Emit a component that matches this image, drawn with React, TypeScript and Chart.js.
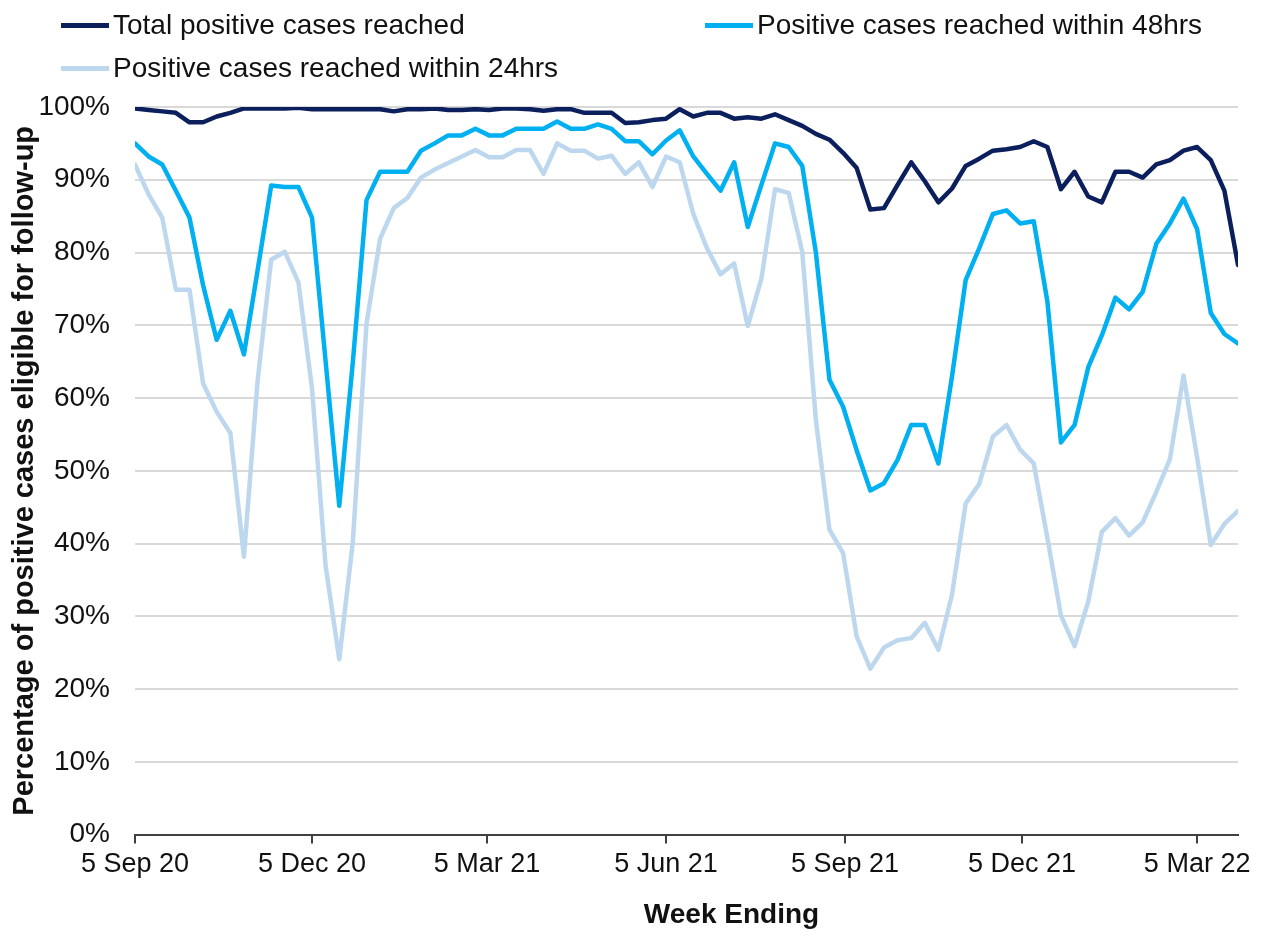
import React, { useEffect, useRef } from 'react';
import { Chart, registerables } from 'chart.js';

Chart.register(...registerables);

// ---- data ----
const FIRST_WEEK_ENDING = '2020-09-05';

const seriesNames = [
  'Total positive cases reached',
  'Positive cases reached within 48hrs',
  'Positive cases reached within 24hrs',
];
const seriesColors = ['#0B1F5C', '#00B0F0', '#BDD7EE'];

const totalReached = [
  99.8, 99.6, 99.4, 99.2, 97.9, 97.9, 98.7, 99.2, 99.8, 99.8,
  99.8, 99.8, 99.9, 99.7, 99.7, 99.7, 99.7, 99.7, 99.7, 99.4,
  99.7, 99.7, 99.8, 99.6, 99.6, 99.7, 99.6, 99.8, 99.8, 99.7,
  99.5, 99.7, 99.7, 99.2, 99.2, 99.2, 97.8, 97.9, 98.2, 98.4,
  99.7, 98.7, 99.2, 99.2, 98.4, 98.6, 98.4, 99.0, 98.2, 97.4,
  96.3, 95.5, 93.7, 91.6, 85.9, 86.1, 89.3, 92.4, 89.8, 86.9,
  88.8, 91.9, 92.9, 94.0, 94.2, 94.5, 95.3, 94.5, 88.7, 91.1,
  87.7, 86.9, 91.1, 91.1, 90.3, 92.1, 92.7, 94.0, 94.5, 92.7,
  88.5, 78.3,
];

const within48hrs = [
  95.0, 93.2, 92.1, 88.5, 84.8, 75.5, 68.0, 72.0, 66.0, 77.5,
  89.2, 89.0, 89.0, 84.8, 65.0, 45.2, 65.0, 87.2, 91.1, 91.1,
  91.1, 94.0, 95.0, 96.1, 96.1, 97.0, 96.1, 96.1, 97.0, 97.0,
  97.0, 98.0, 97.0, 97.0, 97.6, 97.0, 95.3, 95.3, 93.5, 95.4,
  96.8, 93.2, 90.8, 88.5, 92.4, 83.5, 89.3, 95.0, 94.5, 91.9,
  80.0, 62.5, 58.8, 52.8, 47.3, 48.3, 51.5, 56.3, 56.3, 51.0,
  63.0, 76.2, 80.6, 85.3, 85.8, 84.0, 84.3, 73.3, 53.9, 56.3,
  64.2, 68.6, 73.8, 72.2, 74.6, 81.2, 84.0, 87.4, 83.2, 71.7,
  68.8, 67.5,
];

const within24hrs = [
  92.1, 88.0, 84.8, 74.9, 74.9, 62.0, 58.1, 55.2, 38.2, 62.3,
  79.0, 80.1, 75.9, 61.3, 36.9, 24.1, 40.3, 70.2, 81.9, 86.1,
  87.5, 90.3, 91.4, 92.3, 93.2, 94.1, 93.1, 93.1, 94.1, 94.1,
  90.8, 95.0, 94.0, 94.0, 92.9, 93.3, 90.8, 92.4, 89.0, 93.2,
  92.4, 85.3, 80.6, 77.0, 78.5, 69.9, 76.4, 88.7, 88.2, 80.1,
  57.0, 41.9, 38.7, 27.2, 22.8, 25.7, 26.7, 27.0, 29.1, 25.4,
  33.0, 45.5, 48.2, 54.7, 56.3, 52.9, 51.0, 40.8, 30.1, 25.9,
  32.0, 41.6, 43.5, 41.1, 42.9, 47.1, 51.6, 63.1, 51.8, 39.8,
  42.7, 44.5,
];

const tickDates = ['2020-09-05', '2020-12-05', '2021-03-05', '2021-06-05', '2021-09-05', '2021-12-05', '2022-03-05'];
const tickLabels = ['5 Sep 20', '5 Dec 20', '5 Mar 21', '5 Jun 21', '5 Sep 21', '5 Dec 21', '5 Mar 22'];

const yAxisTitle = 'Percentage of positive cases eligible for follow-up';
const xAxisTitle = 'Week Ending';

// ---- helpers ----
const DAY_MS = 86400000;
const dayOffset = (iso: string) => (Date.parse(iso) - Date.parse(FIRST_WEEK_ENDING)) / DAY_MS;
const weekDays = totalReached.map((_, i) => i * 7);
const toPoints = (vals: number[]) => vals.map((y, i) => ({ x: weekDays[i], y }));

const FONT = '"Liberation Sans", Arial, "Helvetica Neue", sans-serif';
const TEXT = '#111111';

const xTitlePlugin = {
  id: 'xTitle',
  afterDraw(chart: any) {
    const { ctx, chartArea } = chart;
    ctx.save();
    ctx.font = `bold 28px ${FONT}`;
    ctx.fillStyle = TEXT;
    ctx.textAlign = 'center';
    ctx.textBaseline = 'middle';
    ctx.fillText(xAxisTitle, (chartArea.left + chartArea.right) / 2 + 45, chartArea.bottom + 81);
    ctx.restore();
  },
};

export default function App() {
  const canvasRef = useRef<HTMLCanvasElement | null>(null);

  useEffect(() => {
    if (!canvasRef.current) return;
    const values = [totalReached, within48hrs, within24hrs];
    const chart = new Chart(canvasRef.current, {
      type: 'line',
      data: {
        datasets: values.map((vals, k) => ({
          label: seriesNames[k],
          data: toPoints(vals),
          borderColor: seriesColors[k],
          backgroundColor: seriesColors[k],
          borderWidth: 4.5,
          pointRadius: 0,
          pointHoverRadius: 0,
          tension: 0,
          borderJoinStyle: 'round' as const,
          borderCapStyle: 'round' as const,
          order: k,
        })),
      },
      options: {
        responsive: false,
        animation: false,
        events: [],
        layout: { padding: { top: 99, right: 19, left: 0, bottom: 51 } },
        plugins: {
          legend: { display: false },
          tooltip: { enabled: false },
          title: { display: false },
        },
        scales: {
          x: {
            type: 'linear',
            min: 0,
            max: weekDays[weekDays.length - 1],
            afterBuildTicks: (scale: any) => {
              scale.ticks = tickDates.map((d) => ({ value: dayOffset(d) }));
            },
            ticks: {
              autoSkip: false,
              maxRotation: 0,
              padding: 5,
              color: TEXT,
              font: { family: FONT, size: 27 },
              callback: (_v: any, i: number) => tickLabels[i],
            },
            grid: { drawOnChartArea: false, drawTicks: true, tickLength: 9, color: '#404040', lineWidth: 2 },
            border: { display: true, color: '#404040', width: 2 },
          },
          y: {
            min: 0,
            max: 100,
            afterFit: (scale: any) => {
              scale.width = 127;
            },
            ticks: {
              stepSize: 10,
              padding: 25,
              color: TEXT,
              font: { family: FONT, size: 28 },
              callback: (v: any) => `${v}%`,
            },
            grid: {
              drawTicks: false,
              color: (ctx: any) => (ctx.tick && ctx.tick.value === 0 ? 'rgba(0,0,0,0)' : '#D9D9D9'),
              lineWidth: 2,
            },
            border: { display: false },
            title: {
              display: true,
              text: yAxisTitle,
              color: TEXT,
              font: { family: FONT, size: 29, weight: 'bold' },
              padding: { top: 0, bottom: 0 },
            },
          },
        },
      },
      plugins: [xTitlePlugin],
    } as any);
    return () => chart.destroy();
  }, []);

  const legendLayout = [
    { left: 53, top: 0 },
    { left: 697, top: 0 },
    { left: 53, top: 43 },
  ];

  return (
    <div style={{ position: 'relative', width: 1249, height: 929, marginBottom: -8 }}>
      <canvas ref={canvasRef} width={1249} height={929} style={{ display: 'block' }} />
      {seriesNames.map((name, k) => (
        <div
          key={name}
          style={{
            position: 'absolute',
            left: legendLayout[k].left,
            top: legendLayout[k].top,
            height: 34,
            display: 'flex',
            alignItems: 'center',
            fontFamily: FONT,
            fontSize: 28,
            color: TEXT,
            whiteSpace: 'nowrap',
          }}
        >
          <span style={{ display: 'inline-block', width: 48, height: 5, background: seriesColors[k], marginRight: 4 }} />
          <span>{name}</span>
        </div>
      ))}
    </div>
  );
}
